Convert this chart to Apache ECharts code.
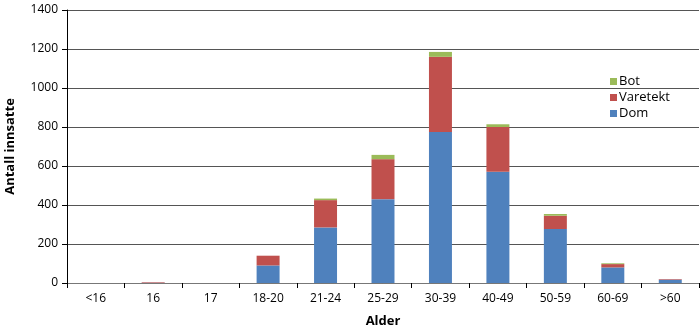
<!DOCTYPE html>
<html><head><meta charset="utf-8">
<script src="https://cdn.jsdelivr.net/npm/echarts@6/dist/echarts.min.js"></script>
<style>html,body{margin:0;padding:0;background:#fff}#c{width:700px;height:334px}</style>
</head><body><div id="c"></div>
<script>
const categories = ['<16','16','17','18-20','21-24','25-29','30-39','40-49','50-59','60-69','>60'];
const dom      = [0, 1, 0, 90, 285, 430, 775, 570, 277, 80, 17];
const varetekt = [0, 3, 0, 50, 140, 205, 385, 230, 68, 17, 3];
const bot      = [0, 0, 0, 0, 8, 22, 25, 14, 9, 4, 0];
const yTicks = {min: 0, max: 1400, interval: 200};

const font = '"Open Sans", "DejaVu Sans", sans-serif';
const chart = echarts.init(document.getElementById('c'));
chart.setOption({
  animation: false,
  textStyle: {fontFamily: font},
  grid: {left: 67, right: 1, top: 10, bottom: 51, containLabel: false, outerBoundsMode: 'none'},
  legend: {
    orient: 'vertical', left: 605, top: 70, itemWidth: 7, itemHeight: 7, itemGap: 3,
    icon: 'rect', data: ['Bot', 'Varetekt', 'Dom'],
    textStyle: {fontSize: 13, color: '#000', fontFamily: font, padding: [0,0,0,-3]},
    backgroundColor: 'transparent'
  },
  xAxis: {
    type: 'category', data: categories,
    name: 'Alder', nameLocation: 'middle', nameGap: 32,
    nameTextStyle: {fontWeight: 'bold', fontSize: 13, color: '#000'},
    axisLine: {lineStyle: {color: '#777', width: 1}},
    axisTick: {show: true, inside: false, length: 5, lineStyle: {color: '#000'}},
    axisLabel: {color: '#000', fontSize: 12, margin: 10}
  },
  yAxis: {
    type: 'value', min: yTicks.min, max: yTicks.max, interval: yTicks.interval,
    name: 'Antall innsatte', nameLocation: 'middle', nameGap: 50,
    nameTextStyle: {fontWeight: 'bold', fontSize: 13, color: '#000'},
    axisLine: {show: true, lineStyle: {color: '#000', width: 1}},
    axisTick: {show: true, length: 5, lineStyle: {color: '#000'}},
    axisLabel: {color: '#000', fontSize: 12, margin: 9, formatter: v => String(v)},
    splitLine: {lineStyle: {color: '#555', width: 1}}
  },
  series: [
    {name: 'Dom', type: 'bar', stack: 's', data: dom, barWidth: '40%', itemStyle: {color: '#4f81bd'}},
    {name: 'Varetekt', type: 'bar', stack: 's', data: varetekt, itemStyle: {color: '#c0504d'}},
    {name: 'Bot', type: 'bar', stack: 's', data: bot, itemStyle: {color: '#9bbb59'}}
  ]
});
</script></body></html>
